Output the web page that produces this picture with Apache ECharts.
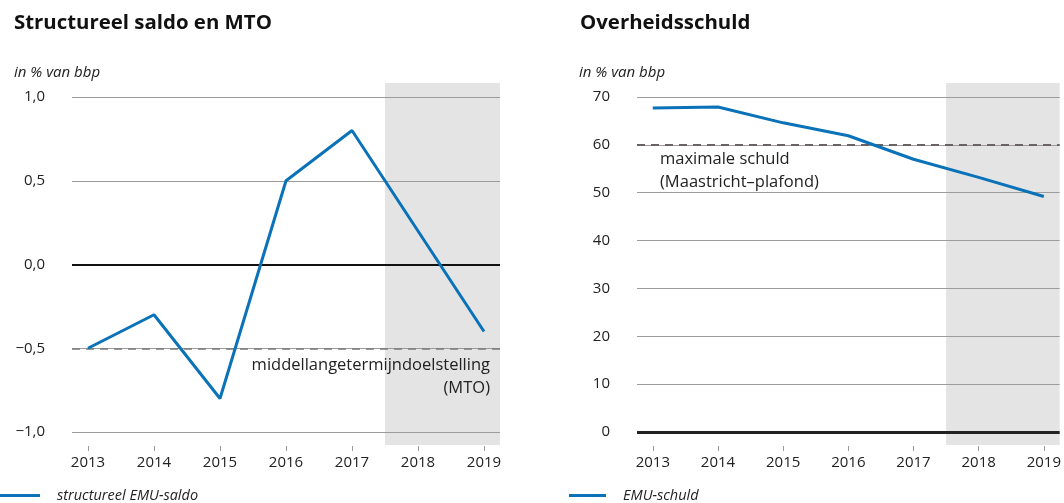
<!DOCTYPE html>
<html>
<head>
<meta charset="utf-8">
<script src="https://cdn.jsdelivr.net/npm/echarts@6/dist/echarts.min.js"></script>
<style>
  html, body { margin: 0; padding: 0; background: #fff; }
  #chart { width: 1064px; height: 503px; }
</style>
</head>
<body>
<div id="chart"></div>
<script>
// Years on the horizontal axis (both panels)
const years = [2013, 2014, 2015, 2016, 2017, 2018, 2019];
// Structural EMU balance, % of GDP
const saldo = [-0.5, -0.3, -0.8, 0.5, 0.8, 0.2, -0.4];
// EMU debt, % of GDP
const schuld = [67.7, 67.9, 64.6, 61.9, 57.0, 53.2, 49.2];
// Tick values of the two vertical axes
const saldoTicks = [-1.0, -0.5, 0.0, 0.5, 1.0];
const schuldTicks = [0, 10, 20, 30, 40, 50, 60, 70];
// Reference levels
const mto = -0.5;
const maastricht = 60;
// Start of the forecast period (shaded)
const forecastStart = 2017.5;

const FONT = '"Open Sans", "Noto Sans", sans-serif';
const BLUE = '#0a72b8';
const pad = 16 / 66;            // half-slot padding beyond first/last year
const xMin = years[0] - pad;
const xMax = years[years.length - 1] + pad;

function pairs(vals) { return years.map((y, i) => [y, vals[i]]); }

function fmtComma(v) { return v.toFixed(1).replace('.', ',').replace('-', '\u2212'); }

function xAxisFor(gi) {
  return {
    type: 'value', gridIndex: gi, min: xMin, max: xMax,
    axisLine: { show: false, onZero: false },
    splitLine: { show: false },
    // short ticks set a little below the plot area
    axisTick: { show: true, length: 19, customValues: years,
                lineStyle: { color: '#9a9a9a', width: 1, type: [0, 14, 5, 60] } },
    axisLabel: { customValues: years, margin: 23, color: '#222', fontSize: 15, fontFamily: FONT,
                 formatter: v => String(v) }
  };
}

function yAxisFor(gi, ticks, fmt) {
  return {
    type: 'value', gridIndex: gi,
    min: ticks[0], max: ticks[ticks.length - 1], interval: ticks[1] - ticks[0],
    axisLine: { show: false }, axisTick: { show: false },
    splitLine: { show: true, lineStyle: { color: '#9c9c9c', width: 1 } },
    axisLabel: { margin: 27, color: '#222', fontSize: 15, fontFamily: FONT, formatter: fmt }
  };
}

// Shaded forecast band, drawn through the axis scales and reaching a little past the plot area
function shadeSeries(gi, yLo, yHi) {
  return {
    type: 'custom', xAxisIndex: gi, yAxisIndex: gi, z: -1, silent: true, clip: false,
    data: [[forecastStart, xMax]],
    renderItem: function (params, api) {
      const p0 = api.coord([api.value(0), yHi]);
      const p1 = api.coord([api.value(1), yLo]);
      return {
        type: 'rect',
        shape: { x: p0[0], y: p0[1] - 14, width: p1[0] - p0[0], height: p1[1] - p0[1] + 27 },
        style: { fill: '#e4e4e4' }
      };
    }
  };
}

const titleStyle = { fontSize: 20.4, fontWeight: 'bold', color: '#111', fontFamily: FONT };
const unitStyle = { fontSize: 15, fontStyle: 'italic', fontWeight: 'normal', color: '#222', fontFamily: FONT };

const option = {
  animation: false,
  textStyle: { fontFamily: FONT },
  title: [
    { text: 'Structureel saldo en MTO', left: 9, top: 8, textStyle: titleStyle },
    { text: 'Overheidsschuld', left: 575, top: 8, textStyle: titleStyle },
    { text: 'in % van bbp', left: 9, top: 60, textStyle: unitStyle },
    { text: 'in % van bbp', left: 574, top: 60, textStyle: unitStyle }
  ],
  legend: [
    { data: ['structureel EMU-saldo'], left: 0, top: 488, padding: 0,
      icon: 'rect', itemWidth: 40, itemHeight: 3,
      textStyle: { fontSize: 14.5, fontStyle: 'italic', color: '#222', fontFamily: FONT, padding: [0, 0, 0, 12] } },
    { data: ['EMU-schuld'], left: 569, top: 488, padding: 0,
      icon: 'rect', itemWidth: 37, itemHeight: 3,
      textStyle: { fontSize: 14.5, fontStyle: 'italic', color: '#222', fontFamily: FONT, padding: [0, 0, 0, 12] } }
  ],
  grid: [
    { left: 72, top: 97, width: 428, height: 335 },
    { left: 637, top: 97, width: 428, height: 335 }
  ],
  xAxis: [xAxisFor(0), xAxisFor(1)],
  yAxis: [
    yAxisFor(0, saldoTicks, v => fmtComma(v)),
    yAxisFor(1, schuldTicks, v => String(v))
  ],
  series: [
    shadeSeries(0, saldoTicks[0], saldoTicks[saldoTicks.length - 1]),
    shadeSeries(1, schuldTicks[0], schuldTicks[schuldTicks.length - 1]),
    // Reference lines (left panel)
    {
      type: 'line', xAxisIndex: 0, yAxisIndex: 0, data: [], z: 1, silent: true,
      markLine: {
        silent: true, symbol: 'none', animation: false,
        data: [
          { yAxis: 0, lineStyle: { color: '#111', width: 2, type: 'solid' }, label: { show: false } },
          { yAxis: mto, lineStyle: { color: '#7a7a7a', width: 1.6, type: [8, 6] },
            label: { show: true, position: 'insideEndBottom', distance: [10, 6],
                     formatter: 'middellangetermijndoelstelling\n(MTO)', align: 'right',
                     color: '#222', fontSize: 16.5, lineHeight: 23, fontFamily: FONT } }
        ]
      }
    },
    // Reference lines (right panel)
    {
      type: 'line', xAxisIndex: 1, yAxisIndex: 1, data: [], z: 1, silent: true,
      markLine: {
        silent: true, symbol: 'none', animation: false,
        data: [
          { yAxis: 0, lineStyle: { color: '#222', width: 3, type: 'solid' }, label: { show: false } },
          { yAxis: maastricht, lineStyle: { color: '#6a6262', width: 2, type: [8, 6] },
            label: { show: true, position: 'insideStartBottom', distance: [23, 3],
                     formatter: 'maximale schuld\n(Maastricht\u2013plafond)', align: 'left',
                     color: '#222', fontSize: 16.5, lineHeight: 23, fontFamily: FONT } }
        ]
      }
    },
    {
      name: 'structureel EMU-saldo', type: 'line', xAxisIndex: 0, yAxisIndex: 0, z: 5,
      data: pairs(saldo), showSymbol: false, symbol: 'none',
      lineStyle: { color: BLUE, width: 3 }, itemStyle: { color: BLUE }
    },
    {
      name: 'EMU-schuld', type: 'line', xAxisIndex: 1, yAxisIndex: 1, z: 5,
      data: pairs(schuld), showSymbol: false, symbol: 'none',
      lineStyle: { color: BLUE, width: 3 }, itemStyle: { color: BLUE }
    }
  ]
};

const chart = echarts.init(document.getElementById('chart'), null, { renderer: 'canvas' });
chart.setOption(option);
</script>
</body>
</html>
